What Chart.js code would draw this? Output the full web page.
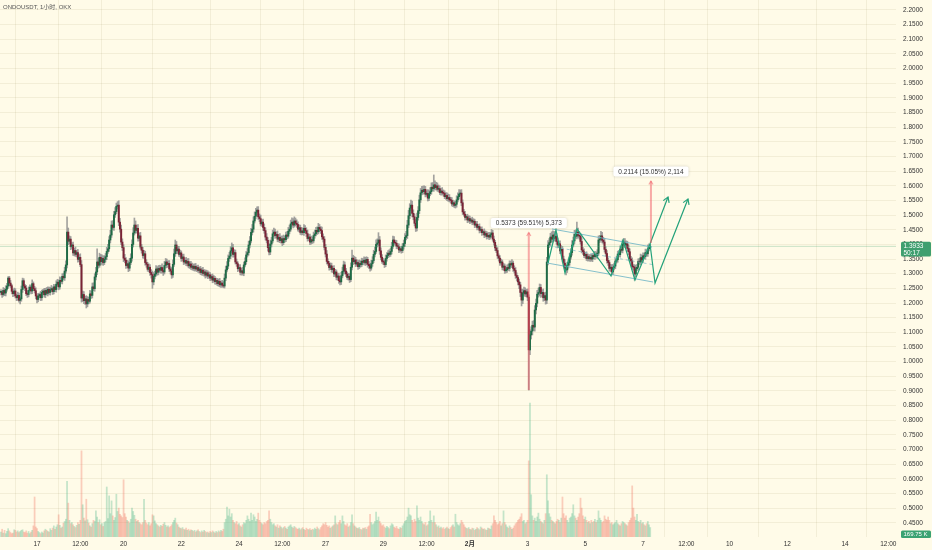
<!DOCTYPE html>
<html>
<head>
<meta charset="utf-8">
<title>ONDOUSDT, 1小时, OKX</title>
<script src="https://cdn.jsdelivr.net/npm/chart.js@4.4.1/dist/chart.umd.min.js"></script>
<style>
  html, body { margin: 0; padding: 0; background: #fffbe8; }
  #wrap { width: 932px; height: 550px; position: relative; }
</style>
</head>
<body>
<div id="wrap"><canvas id="ondoChart"></canvas></div>
<script>
// hourly candles, x value = hours counted from 15 Jan 00:00
const startHour = 18;
const firstOpen = 1.236;

const closes = [
  1.238, 1.229, 1.243, 1.234, 1.247, 1.258, 1.285, 1.268, 1.259, 1.240,
  1.232, 1.241, 1.224, 1.218, 1.226, 1.209, 1.214, 1.246, 1.276, 1.258,
  1.251, 1.232, 1.229, 1.243, 1.254, 1.241, 1.266, 1.249, 1.242, 1.224,
  1.212, 1.224, 1.229, 1.218, 1.236, 1.241, 1.228, 1.243, 1.233, 1.247,
  1.236, 1.245, 1.249, 1.239, 1.255, 1.246, 1.264, 1.271, 1.255, 1.277,
  1.274, 1.291, 1.286, 1.309, 1.330, 1.442, 1.411, 1.418, 1.392, 1.398,
  1.371, 1.379, 1.366, 1.372, 1.349, 1.356, 1.331, 1.217, 1.229, 1.208,
  1.214, 1.197, 1.212, 1.206, 1.231, 1.226, 1.255, 1.249, 1.289, 1.306,
  1.340, 1.329, 1.356, 1.341, 1.352, 1.338, 1.349, 1.358, 1.376, 1.385,
  1.415, 1.432, 1.466, 1.458, 1.501, 1.512, 1.530, 1.534, 1.476, 1.452,
  1.408, 1.389, 1.353, 1.346, 1.328, 1.334, 1.319, 1.338, 1.353, 1.400,
  1.439, 1.466, 1.448, 1.455, 1.421, 1.429, 1.391, 1.380, 1.362, 1.368,
  1.338, 1.332, 1.315, 1.322, 1.304, 1.297, 1.272, 1.291, 1.299, 1.316,
  1.305, 1.318, 1.312, 1.321, 1.311, 1.306, 1.328, 1.340, 1.331, 1.335,
  1.316, 1.309, 1.296, 1.332, 1.368, 1.398, 1.378, 1.384, 1.366, 1.371,
  1.352, 1.357, 1.340, 1.345, 1.336, 1.342, 1.327, 1.333, 1.322, 1.326,
  1.318, 1.325, 1.316, 1.321, 1.311, 1.316, 1.304, 1.312, 1.301, 1.306,
  1.295, 1.303, 1.292, 1.296, 1.285, 1.290, 1.278, 1.284, 1.273, 1.277,
  1.266, 1.274, 1.262, 1.268, 1.261, 1.258, 1.285, 1.313, 1.326, 1.352,
  1.360, 1.378, 1.388, 1.366, 1.372, 1.340, 1.334, 1.317, 1.321, 1.305,
  1.310, 1.302, 1.330, 1.341, 1.364, 1.372, 1.398, 1.412, 1.441, 1.452,
  1.480, 1.496, 1.510, 1.517, 1.494, 1.488, 1.470, 1.476, 1.458, 1.447,
  1.425, 1.414, 1.389, 1.374, 1.401, 1.412, 1.436, 1.442, 1.430, 1.434,
  1.418, 1.424, 1.413, 1.419, 1.406, 1.420, 1.416, 1.432, 1.428, 1.445,
  1.452, 1.470, 1.476, 1.466, 1.480, 1.472, 1.468, 1.452, 1.457, 1.441,
  1.446, 1.440, 1.455, 1.447, 1.437, 1.420, 1.425, 1.408, 1.416, 1.412,
  1.430, 1.436, 1.448, 1.443, 1.458, 1.452, 1.447, 1.426, 1.418, 1.390,
  1.367, 1.342, 1.335, 1.321, 1.327, 1.314, 1.318, 1.299, 1.306, 1.288,
  1.292, 1.276, 1.272, 1.293, 1.308, 1.330, 1.309, 1.299, 1.287, 1.291,
  1.280, 1.322, 1.353, 1.341, 1.347, 1.333, 1.338, 1.324, 1.335, 1.331,
  1.343, 1.339, 1.346, 1.337, 1.349, 1.332, 1.327, 1.319, 1.334, 1.345,
  1.366, 1.376, 1.400, 1.405, 1.415, 1.378, 1.356, 1.342, 1.340, 1.331,
  1.352, 1.362, 1.370, 1.366, 1.376, 1.393, 1.415, 1.406, 1.404, 1.394,
  1.392, 1.381, 1.385, 1.379, 1.393, 1.403, 1.424, 1.430, 1.466, 1.498,
  1.524, 1.534, 1.506, 1.494, 1.472, 1.456, 1.492, 1.515, 1.552, 1.576,
  1.585, 1.580, 1.588, 1.571, 1.574, 1.558, 1.573, 1.580, 1.595, 1.590,
  1.603, 1.594, 1.600, 1.588, 1.590, 1.577, 1.582, 1.576, 1.574, 1.563,
  1.567, 1.556, 1.560, 1.552, 1.550, 1.538, 1.542, 1.533, 1.537, 1.552,
  1.563, 1.572, 1.575, 1.542, 1.511, 1.503, 1.492, 1.494, 1.483, 1.488,
  1.480, 1.483, 1.476, 1.479, 1.466, 1.469, 1.458, 1.461, 1.448, 1.451,
  1.440, 1.443, 1.432, 1.437, 1.427, 1.431, 1.425, 1.433, 1.439, 1.418,
  1.407, 1.388, 1.379, 1.361, 1.353, 1.337, 1.340, 1.322, 1.326, 1.310,
  1.313, 1.321, 1.318, 1.334, 1.330, 1.336, 1.318, 1.311, 1.294, 1.287,
  1.272, 1.262, 1.236, 1.210, 1.234, 1.242, 1.231, 1.238, 1.220, 1.040,
  1.091, 1.104, 1.124, 1.118, 1.176, 1.199, 1.230, 1.236, 1.253, 1.232,
  1.236, 1.218, 1.225, 1.210, 1.340, 1.398, 1.406, 1.425, 1.418, 1.432,
  1.421, 1.428, 1.410, 1.398, 1.402, 1.378, 1.384, 1.350, 1.336, 1.318,
  1.313, 1.329, 1.338, 1.357, 1.372, 1.398, 1.412, 1.434, 1.428, 1.442,
  1.431, 1.428, 1.410, 1.381, 1.375, 1.362, 1.366, 1.352, 1.358, 1.351,
  1.356, 1.350, 1.362, 1.358, 1.366, 1.361, 1.370, 1.415, 1.418, 1.429,
  1.414, 1.408, 1.383, 1.369, 1.345, 1.338, 1.318, 1.322, 1.306, 1.320,
  1.326, 1.343, 1.348, 1.367, 1.365, 1.383, 1.380, 1.401, 1.408, 1.398,
  1.402, 1.386, 1.375, 1.350, 1.344, 1.324, 1.322, 1.299, 1.317, 1.322,
  1.342, 1.339, 1.355, 1.347, 1.361, 1.358, 1.372, 1.368, 1.385, 1.390,
  1.3933
];

// wick length above / below the body, in thousandths
const wickUp = [
  8,6,10,7,12,9,5,6,9,5,7,10,8,6,11,8,6,12,9,7,
  6,9,10,12,8,7,13,6,8,10,7,9,5,11,8,6,9,7,10,8,
  7,9,11,6,9,7,12,10,8,12,10,9,11,13,14,52,14,11,9,8,
  10,8,12,7,11,9,12,14,12,10,9,11,10,8,12,10,13,14,11,16,
  45,12,14,10,12,9,13,11,14,15,12,16,14,15,12,14,11,12,15,13,
  14,11,10,13,9,12,10,14,15,16,18,24,14,11,13,10,12,9,10,12,
  9,10,7,12,9,10,12,13,10,12,8,10,11,7,13,10,14,12,10,9,
  10,8,12,15,16,17,12,10,9,10,7,9,10,7,11,9,10,7,9,10,
  7,9,10,7,8,7,9,7,10,8,7,9,7,10,8,7,9,10,7,8,
  7,8,10,7,9,12,14,13,15,12,13,14,17,12,10,9,10,7,9,10,
  9,12,10,13,12,14,13,15,14,16,14,15,13,11,12,10,12,9,10,12,
  10,12,9,13,14,12,13,14,10,9,12,10,13,9,10,12,9,10,12,13,
  14,13,15,12,14,10,12,9,10,9,12,10,13,9,10,12,9,10,12,9,
  12,13,10,12,14,10,9,12,10,9,10,12,9,7,10,9,7,10,9,7,
  9,10,7,12,14,13,10,9,7,10,9,15,28,10,12,9,10,7,12,9,
  10,9,12,10,9,7,10,9,12,13,14,15,16,14,25,12,10,9,10,7,
  12,10,9,12,10,14,13,12,9,10,9,10,7,9,10,12,13,15,16,18,
  15,17,14,12,10,13,15,14,16,15,13,14,12,10,9,13,12,14,15,16,
  34,14,12,10,13,10,9,12,10,9,10,9,12,10,9,10,9,7,10,14,
  13,15,11,12,10,9,10,7,9,10,9,7,10,9,7,9,10,7,9,7,
  9,7,10,9,7,9,10,7,12,9,10,7,9,10,7,9,10,7,9,7,
  10,9,12,10,9,12,7,9,10,9,7,10,9,12,13,12,10,9,10,8,
  18,15,14,16,15,14,13,15,12,10,9,12,10,12,16,15,14,13,18,14,
  13,12,10,12,9,10,12,9,10,12,9,10,12,13,14,15,13,14,16,34,
  14,12,10,13,9,10,7,9,10,7,9,10,7,9,10,9,12,14,13,16,
  12,10,13,9,10,9,7,10,9,12,10,9,12,10,13,12,10,14,12,12,
  10,9,12,10,9,10,7,9,12,10,9,10,12,9,10,9,12,10,13,12,
  6
];
const wickDown = [
  8,10,6,9,10,7,8,10,6,9,10,8,7,10,9,6,12,8,10,7,
  9,7,10,8,6,10,9,7,8,10,12,8,6,10,9,7,8,10,6,9,
  7,9,6,10,8,7,9,7,10,8,7,9,6,9,7,10,12,9,10,7,
  9,10,7,9,10,8,7,14,12,10,13,14,10,9,7,10,9,7,9,10,
  9,10,7,12,9,10,7,9,10,7,9,10,8,7,10,9,7,9,12,10,
  9,10,12,9,10,7,12,9,7,10,9,7,10,9,10,9,7,10,9,10,
  9,10,7,9,10,12,22,10,9,7,10,9,7,10,9,12,7,9,10,9,
  9,10,12,9,7,9,10,9,7,9,10,7,9,7,9,10,7,9,7,9,
  7,9,7,9,7,9,7,9,7,9,10,7,9,7,9,7,9,7,9,10,
  7,9,7,9,7,6,7,9,7,9,10,9,7,10,9,7,9,10,7,9,
  10,7,9,7,9,7,9,10,7,9,10,7,9,10,9,10,7,9,10,9,
  10,9,12,10,9,10,7,9,10,7,9,10,7,9,10,7,9,7,9,7,
  9,7,9,10,7,9,10,7,9,7,9,7,9,7,10,9,7,9,7,9,
  7,9,7,9,7,9,10,9,10,9,10,9,7,9,7,9,10,9,7,9,
  10,9,10,9,7,9,10,9,7,9,10,7,9,10,7,9,7,9,7,9,
  7,9,7,9,7,10,9,10,7,9,7,9,7,9,10,12,9,7,9,10,
  7,9,7,9,7,9,7,9,7,9,7,9,7,9,7,9,10,9,10,9,
  10,9,12,10,9,12,10,9,10,9,7,9,7,9,7,10,9,7,9,7,
  9,7,9,7,9,7,9,7,9,7,9,7,9,7,9,7,9,7,9,10,
  7,9,7,10,9,7,9,7,9,7,9,7,9,7,9,7,9,7,9,7,
  9,7,9,7,9,7,9,7,9,7,10,9,7,9,10,9,7,9,10,9,
  7,9,7,9,7,9,10,9,10,12,10,13,14,20,12,10,9,10,12,137,
  16,14,13,12,14,13,12,10,12,13,10,12,10,14,12,10,9,10,9,10,
  9,10,9,10,9,10,9,10,12,10,17,9,10,9,7,9,7,9,7,9,
  9,10,9,10,9,7,9,7,9,7,9,7,9,7,9,7,9,7,9,7,
  9,7,9,10,9,10,9,10,10,9,7,9,7,9,7,9,7,9,7,9,
  7,9,10,9,10,9,10,21,9,7,9,7,9,7,9,7,9,7,9,7,
  5
];

// volume per candle, thousands of ONDO
const volumes = [
  90,140,70,120,60,100,150,110,80,60,70,130,120,90,110,80,100,120,130,90,
  80,110,70,100,60,90,120,200,720,180,150,100,80,60,90,70,110,140,120,100,
  90,150,120,160,200,140,180,220,400,210,160,180,250,280,320,1000,610,300,240,260,
  220,190,170,210,260,230,300,1550,580,340,290,680,310,250,200,180,240,300,280,470,
  360,260,310,220,240,190,260,280,900,330,740,420,650,380,300,350,770,460,520,410,
  380,350,1030,420,360,300,280,250,320,520,460,390,320,280,300,260,240,220,260,680,
  300,250,220,260,200,240,400,380,290,240,220,200,180,210,190,230,260,210,180,200,
  170,190,220,260,300,340,250,220,180,160,150,170,140,130,160,120,140,110,130,120,
  100,120,90,110,130,100,80,110,90,120,100,80,90,70,100,80,110,90,70,100,
  80,110,90,120,100,140,260,320,540,380,500,360,420,300,260,240,280,220,240,200,
  180,220,260,240,300,380,320,280,430,300,400,360,280,320,430,300,260,240,220,260,
  240,280,300,470,320,260,220,240,200,180,220,160,200,180,150,170,190,160,140,180,
  200,220,180,160,190,170,150,140,160,130,150,170,140,120,160,140,130,150,120,140,
  130,160,140,180,150,130,170,200,240,220,260,210,180,200,160,180,200,220,380,240,
  220,260,300,240,380,280,220,200,240,180,200,260,400,240,200,180,160,150,170,140,
  130,160,150,170,140,180,200,410,260,220,240,280,450,300,360,280,240,200,220,180,
  160,190,170,150,200,240,220,180,160,190,150,140,170,160,200,240,280,300,360,520,
  400,380,300,260,320,280,560,340,300,360,280,240,220,260,200,220,280,470,300,260,
  380,260,220,180,200,160,180,150,170,140,160,180,150,140,170,200,220,180,410,260,
  220,200,240,300,260,220,180,160,150,170,140,130,160,150,120,140,170,150,130,180,
  160,140,150,130,120,160,150,140,200,240,380,300,260,220,240,280,200,240,470,260,
  220,180,160,200,170,140,160,200,240,260,300,320,360,420,280,300,240,260,300,1370,
  2410,760,380,300,340,280,360,430,320,280,260,240,300,420,1120,650,420,360,300,280,
  260,240,280,320,300,260,340,720,420,340,380,300,260,340,360,420,580,380,340,300,
  360,420,700,520,380,320,360,300,260,280,240,300,260,280,320,260,300,470,340,300,
  260,280,380,320,300,360,300,240,260,220,240,260,300,240,220,200,240,280,260,240,
  220,200,260,300,340,920,520,360,300,410,280,260,300,240,260,220,200,240,280,220,
  170
];

const priceTicks = [
  0.45, 0.50, 0.55, 0.60, 0.65, 0.70, 0.75, 0.80, 0.85, 0.90, 0.95, 1.00,
  1.05, 1.10, 1.15, 1.20, 1.25, 1.30, 1.35, 1.40, 1.45, 1.50, 1.55, 1.60,
  1.65, 1.70, 1.75, 1.80, 1.85, 1.90, 1.95, 2.00, 2.05, 2.10, 2.15, 2.20
];
const timeTicks = [48, 84, 120, 168, 216, 252, 288, 336, 372, 408, 456, 504, 552, 588, 624, 672, 720, 756];
const timeLabels = ['17', '12:00', '20', '22', '24', '12:00', '27', '29', '12:00', '2月', '3', '5', '7', '12:00', '10', '12', '14', '12:00'];

const lastPrice = 1.3933;

// drawings on the chart, anchored in (hour, price)
const channelUpper = [[476.3, 1.4526], [559.5, 1.3911]];
const channelLower = [[472.2, 1.3365], [560.3, 1.2717]];
const channelMid = [[473.8, 1.3945], [559.5, 1.3314]];
const zigzag = [[473.0, 1.3365], [479.6, 1.4491], [487.1, 1.3024], [497.1, 1.4526], [525.4, 1.2922],
  [535.4, 1.4150], [545.3, 1.2785], [557.8, 1.4014], [572.8, 1.5618]];
const zigzagAlt = [[557.8, 1.4014], [562.0, 1.2683], [589.4, 1.5549]];
const measures = [
  { hour: 457.0, from: 0.9029, to: 1.4402, labelPrice: 1.473, text: '0.5373 (59.51%) 5,373' },
  { hour: 558.6, from: 1.4047, to: 1.6161, labelPrice: 1.6488, text: '0.2114 (15.05%) 2,114' }
];

const FONT = '"Liberation Sans", "Noto Sans CJK SC", sans-serif';
const GRID = 'rgba(150, 140, 80, 0.11)';

const opens = closes.map((c, i) => i === 0 ? firstOpen : closes[i - 1]);
const highs = closes.map((c, i) => Math.max(opens[i], c) + wickUp[i] / 1000);
const lows = closes.map((c, i) => Math.min(opens[i], c) - wickDown[i] / 1000);
const isUp = closes.map((c, i) => c >= opens[i]);
const hourOf = i => startHour + i;

function arrowHead(ctx, x1, y1, x2, y2, len) {
  const a = Math.atan2(y2 - y1, x2 - x1);
  ctx.beginPath();
  ctx.moveTo(x2 - len * Math.cos(a - 0.55), y2 - len * Math.sin(a - 0.55));
  ctx.lineTo(x2, y2);
  ctx.lineTo(x2 - len * Math.cos(a + 0.55), y2 - len * Math.sin(a + 0.55));
  ctx.stroke();
}

// green label box on the price axis
function tag(ctx, x, y, w, lineH, color, lines, size) {
  ctx.fillStyle = color;
  ctx.beginPath();
  ctx.roundRect(x, y, w, lineH * lines.length + 1, 1.5);
  ctx.fill();
  ctx.fillStyle = '#ffffff';
  ctx.textAlign = 'left';
  ctx.textBaseline = 'middle';
  ctx.font = size + 'px ' + FONT;
  lines.forEach((t, k) => ctx.fillText(t, x + 2.5, y + 0.5 + lineH * (k + 0.5) + 0.5));
}

const overlay = {
  id: 'overlay',
  beforeDraw(chart) {
    const ctx = chart.ctx;
    ctx.save();
    ctx.fillStyle = '#fffbe8';
    ctx.fillRect(0, 0, chart.width, chart.height);
    ctx.restore();
  },
  afterDatasetsDraw(chart) {
    const { ctx, chartArea, scales: { x, y } } = chart;
    const pt = p => [x.getPixelForValue(p[0]), y.getPixelForValue(p[1])];
    ctx.save();
    ctx.beginPath();
    ctx.rect(chartArea.left, chartArea.top, chartArea.right - chartArea.left, chartArea.bottom - chartArea.top);
    ctx.clip();

    // last price line
    const ly = y.getPixelForValue(lastPrice);
    ctx.strokeStyle = 'rgba(60, 160, 110, 0.28)';
    ctx.lineWidth = 1;
    ctx.beginPath();
    ctx.moveTo(chartArea.left, ly);
    ctx.lineTo(chartArea.right, ly);
    ctx.stroke();

    // channel
    ctx.strokeStyle = 'rgba(120, 185, 200, 0.9)';
    [channelUpper, channelLower].forEach(seg => {
      const a = pt(seg[0]), b = pt(seg[1]);
      ctx.beginPath(); ctx.moveTo(a[0], a[1]); ctx.lineTo(b[0], b[1]); ctx.stroke();
    });
    ctx.setLineDash([3, 3]);
    ctx.strokeStyle = 'rgba(120, 185, 200, 0.7)';
    const m0 = pt(channelMid[0]), m1 = pt(channelMid[1]);
    ctx.beginPath(); ctx.moveTo(m0[0], m0[1]); ctx.lineTo(m1[0], m1[1]); ctx.stroke();
    ctx.setLineDash([]);

    // projected zigzag
    ctx.strokeStyle = '#23a27a';
    ctx.lineWidth = 1.2;
    [zigzag, zigzagAlt].forEach(path => {
      const px = path.map(pt);
      ctx.beginPath();
      px.forEach((p, k) => k ? ctx.lineTo(p[0], p[1]) : ctx.moveTo(p[0], p[1]));
      ctx.stroke();
      const a = px[px.length - 2], b = px[px.length - 1];
      arrowHead(ctx, a[0], a[1], b[0], b[1], 6);
    });

    // price range measures
    measures.forEach(m => {
      const mx = x.getPixelForValue(m.hour);
      const y0 = y.getPixelForValue(m.from), y1 = y.getPixelForValue(m.to);
      ctx.strokeStyle = 'rgba(242, 90, 100, 0.5)';
      ctx.lineWidth = 2;
      ctx.beginPath(); ctx.moveTo(mx, y0); ctx.lineTo(mx, y1); ctx.stroke();
      ctx.lineWidth = 1.2;
      arrowHead(ctx, mx, y0, mx, y1, 4);
    });
    ctx.restore();

    measures.forEach(m => {
      const cx = x.getPixelForValue(m.hour), cy = y.getPixelForValue(m.labelPrice);
      ctx.save();
      ctx.font = '6.5px ' + FONT;
      const w = ctx.measureText(m.text).width + 10, h = 10;
      ctx.shadowColor = 'rgba(0, 0, 0, 0.18)';
      ctx.shadowBlur = 3;
      ctx.fillStyle = '#ffffff';
      ctx.beginPath();
      ctx.roundRect(cx - w / 2, cy - h / 2, w, h, 2);
      ctx.fill();
      ctx.shadowColor = 'transparent';
      ctx.fillStyle = '#333333';
      ctx.textAlign = 'center';
      ctx.textBaseline = 'middle';
      ctx.fillText(m.text, cx, cy + 0.5);
      ctx.restore();
    });
  },
  afterDraw(chart) {
    const { ctx, chartArea, scales: { y } } = chart;
    ctx.save();
    ctx.fillStyle = '#555555';
    ctx.font = '6px ' + FONT;
    ctx.textAlign = 'left';
    ctx.textBaseline = 'middle';
    ctx.fillText('ONDOUSDT, 1小时, OKX', 3, 7.5);

    const ly = y.getPixelForValue(lastPrice);
    tag(ctx, chartArea.right + 5, ly - 4.5, 30, 6.8, '#3f9f6f', [lastPrice.toFixed(4), '50:17'], 6.5);
    tag(ctx, chartArea.right + 5, chartArea.bottom - 6.5, 30, 6.5, '#3aa272', ['169.75 K'], 6);
    ctx.restore();
  }
};

const ctx = document.getElementById('ondoChart').getContext('2d');

const ondoChart = new Chart(ctx, {
  type: 'bar',
  data: {
    datasets: [
      {
        label: 'body',
        data: closes.map((c, i) => ({ x: hourOf(i), y: [opens[i], c] })),
        backgroundColor: isUp.map(u => u ? '#1f6b45' : '#7a2435'),
        barThickness: 1.3,
        minBarLength: 1,
        grouped: false,
        order: 0
      },
      {
        label: 'wick',
        data: closes.map((c, i) => ({ x: hourOf(i), y: [lows[i], highs[i]] })),
        backgroundColor: 'rgba(140, 140, 140, 0.8)',
        barThickness: 1,
        grouped: false,
        order: 1
      },
      {
        label: 'volume',
        yAxisID: 'vol',
        data: volumes.map((v, i) => ({ x: hourOf(i), y: v })),
        backgroundColor: isUp.map(u => u ? 'rgba(70, 180, 135, 0.32)' : 'rgba(240, 110, 90, 0.32)'),
        barThickness: 1.1,
        grouped: false,
        order: 2
      }
    ]
  },
  options: {
    responsive: true,
    maintainAspectRatio: false,
    animation: false,
    layout: { padding: 0 },
    scales: {
      x: {
        type: 'linear',
        min: 17.23,
        max: 762.4,
        offset: false,
        border: { display: false },
        grid: { color: GRID, drawTicks: false },
        afterBuildTicks: s => { s.ticks = timeTicks.map(v => ({ value: v })); },
        afterFit: s => { s.height = 13; s.paddingLeft = 0; s.paddingRight = 0; },
        ticks: {
          autoSkip: false,
          maxRotation: 0,
          padding: 3,
          color: '#333333',
          font: c => ({ size: 6.5, family: FONT, weight: c.tick && c.tick.value === 408 ? 'bold' : 'normal' }),
          callback: (v, i) => timeLabels[i]
        }
      },
      y: {
        position: 'right',
        min: 0.4014,
        max: 2.2341,
        border: { display: false },
        grid: { color: GRID, drawTicks: false },
        afterBuildTicks: s => { s.ticks = priceTicks.map(v => ({ value: v })); },
        afterFit: s => { s.width = 36; s.paddingTop = 0; s.paddingBottom = 0; },
        ticks: {
          autoSkip: false,
          padding: 7,
          color: '#333333',
          font: { size: 6.5, family: FONT },
          callback: v => v.toFixed(4)
        }
      },
      vol: {
        display: false,
        min: 0,
        max: 9666
      }
    },
    plugins: {
      legend: { display: false },
      tooltip: { enabled: false }
    }
  },
  plugins: [overlay]
});
</script>
</body>
</html>
